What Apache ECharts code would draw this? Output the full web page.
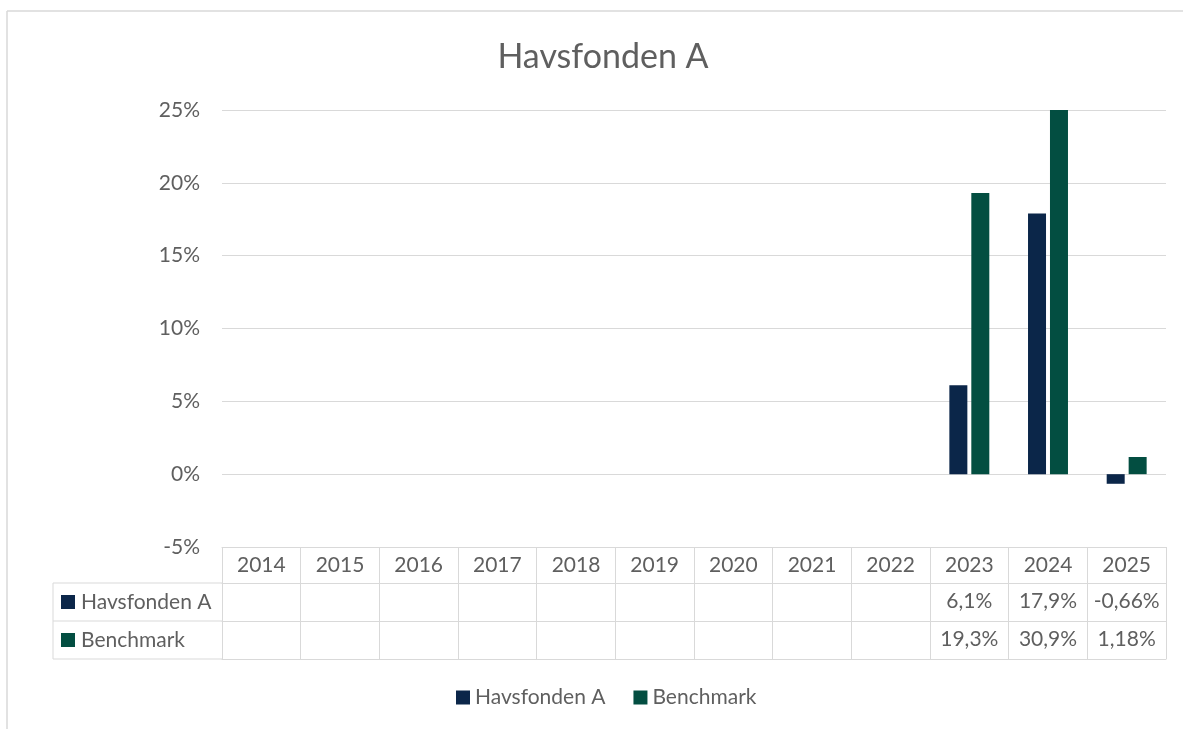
<!DOCTYPE html>
<html>
<head>
<meta charset="utf-8">
<script src="https://cdn.jsdelivr.net/npm/echarts@6/dist/echarts.min.js"></script>
<style>
html, body { margin: 0; padding: 0; background: #fff; }
#main { width: 1183px; height: 729px; }
</style>
</head>
<body>
<div id="main"></div>
<script>
var years = ['2014', '2015', '2016', '2017', '2018', '2019', '2020', '2021', '2022', '2023', '2024', '2025'];
var havsfonden = [null, null, null, null, null, null, null, null, null, 6.1, 17.9, -0.66];
var benchmark = [null, null, null, null, null, null, null, null, null, 19.3, 30.9, 1.18];
var seriesNames = ['Havsfonden A', 'Benchmark'];
var colors = ['#0B2649', '#034E41'];

var FONT = 'Lato';
var TXT = '#5f5f5f';
var LINE = '#d9d9d9';

// plot area edges (px)
var gLeft = 222, gRight = 1166, gTop = 110, gBottom = 547;
var rowH = [36, 38, 38];

function pct(v) {
    if (v === null || v === undefined) return '';
    return String(v).replace('.', ',') + '%';
}

function tableAxis(offset, tickLen, labels, showLabel) {
    return {
        type: 'category',
        data: years,
        position: 'bottom',
        offset: offset,
        boundaryGap: true,
        axisLine: { show: true, onZero: false, lineStyle: { color: LINE, width: 1 } },
        axisTick: { show: tickLen > 0, interval: 0, length: tickLen, lineStyle: { color: LINE, width: 1 } },
        axisLabel: {
            show: showLabel,
            interval: 0,
            margin: 8,
            color: TXT,
            fontFamily: FONT,
            fontSize: 21,
            formatter: function (val, idx) { return labels[idx]; }
        },
        splitLine: { show: false }
    };
}

var dom = document.getElementById('main');
var myChart = echarts.init(dom);

var row1 = gBottom + rowH[0];
var row2 = row1 + rowH[1];
var row3 = row2 + rowH[2];

var option = {
    backgroundColor: '#fff',
    animation: false,
    title: {
        text: 'Havsfonden A',
        left: 598,
        textAlign: 'center',
        top: 35,
        textStyle: { color: TXT, fontFamily: FONT, fontSize: 34, fontWeight: 'normal' }
    },
    legend: {
        data: seriesNames,
        left: 451,
        top: 682,
        icon: 'rect',
        itemWidth: 14,
        itemHeight: 14,
        itemGap: 28,
        textStyle: { color: TXT, fontFamily: FONT, fontSize: 21 }
    },
    grid: {
        left: gLeft,
        right: 1183 - gRight,
        top: gTop,
        bottom: 729 - gBottom
    },
    xAxis: [
        tableAxis(0, rowH[0], years, true),
        tableAxis(rowH[0], rowH[1], havsfonden.map(pct), true),
        tableAxis(rowH[0] + rowH[1], rowH[2], benchmark.map(pct), true),
        tableAxis(rowH[0] + rowH[1] + rowH[2], 0, years, false)
    ],
    yAxis: {
        type: 'value',
        min: -5,
        max: 25,
        interval: 5,
        axisLine: { show: false },
        axisTick: { show: false },
        axisLabel: { formatter: '{value}%', color: TXT, fontFamily: FONT, fontSize: 21, margin: 22 },
        splitLine: { lineStyle: { color: LINE, width: 1 } }
    },
    series: [{
        name: seriesNames[0],
        type: 'bar',
        xAxisIndex: 0,
        data: havsfonden,
        barWidth: 18,
        barGap: '22%',
        clip: true,
        itemStyle: { color: colors[0] }
    }, {
        name: seriesNames[1],
        type: 'bar',
        xAxisIndex: 0,
        data: benchmark,
        barWidth: 18,
        barGap: '22%',
        clip: true,
        itemStyle: { color: colors[1] }
    }],
    graphic: [
        // outer chart frame
        { type: 'line', shape: { x1: 7, y1: 11, x2: 1183, y2: 11 }, style: { stroke: LINE, lineWidth: 1.5 } },
        { type: 'line', shape: { x1: 7, y1: 11, x2: 7, y2: 729 }, style: { stroke: LINE, lineWidth: 1.5 } },
        // data table legend-key column
        { type: 'line', shape: { x1: 53, y1: row1, x2: gLeft, y2: row1 }, style: { stroke: LINE, lineWidth: 1 } },
        { type: 'line', shape: { x1: 53, y1: row2, x2: gLeft, y2: row2 }, style: { stroke: LINE, lineWidth: 1 } },
        { type: 'line', shape: { x1: 53, y1: row3, x2: gLeft, y2: row3 }, style: { stroke: LINE, lineWidth: 1 } },
        { type: 'line', shape: { x1: 53, y1: row1, x2: 53, y2: row3 }, style: { stroke: LINE, lineWidth: 1 } },
        { type: 'rect', shape: { x: 61, y: (row1 + row2) / 2 - 7, width: 14, height: 14 }, style: { fill: colors[0] } },
        { type: 'rect', shape: { x: 61, y: (row2 + row3) / 2 - 7, width: 14, height: 14 }, style: { fill: colors[1] } },
        { type: 'text', x: 81, y: (row1 + row2) / 2, style: { text: seriesNames[0], fill: TXT, font: '21px ' + FONT, verticalAlign: 'middle' } },
        { type: 'text', x: 81, y: (row2 + row3) / 2, style: { text: seriesNames[1], fill: TXT, font: '21px ' + FONT, verticalAlign: 'middle' } }
    ]
};

if (option && typeof option === 'object') {
    myChart.setOption(option, true);
}
</script>
</body>
</html>
